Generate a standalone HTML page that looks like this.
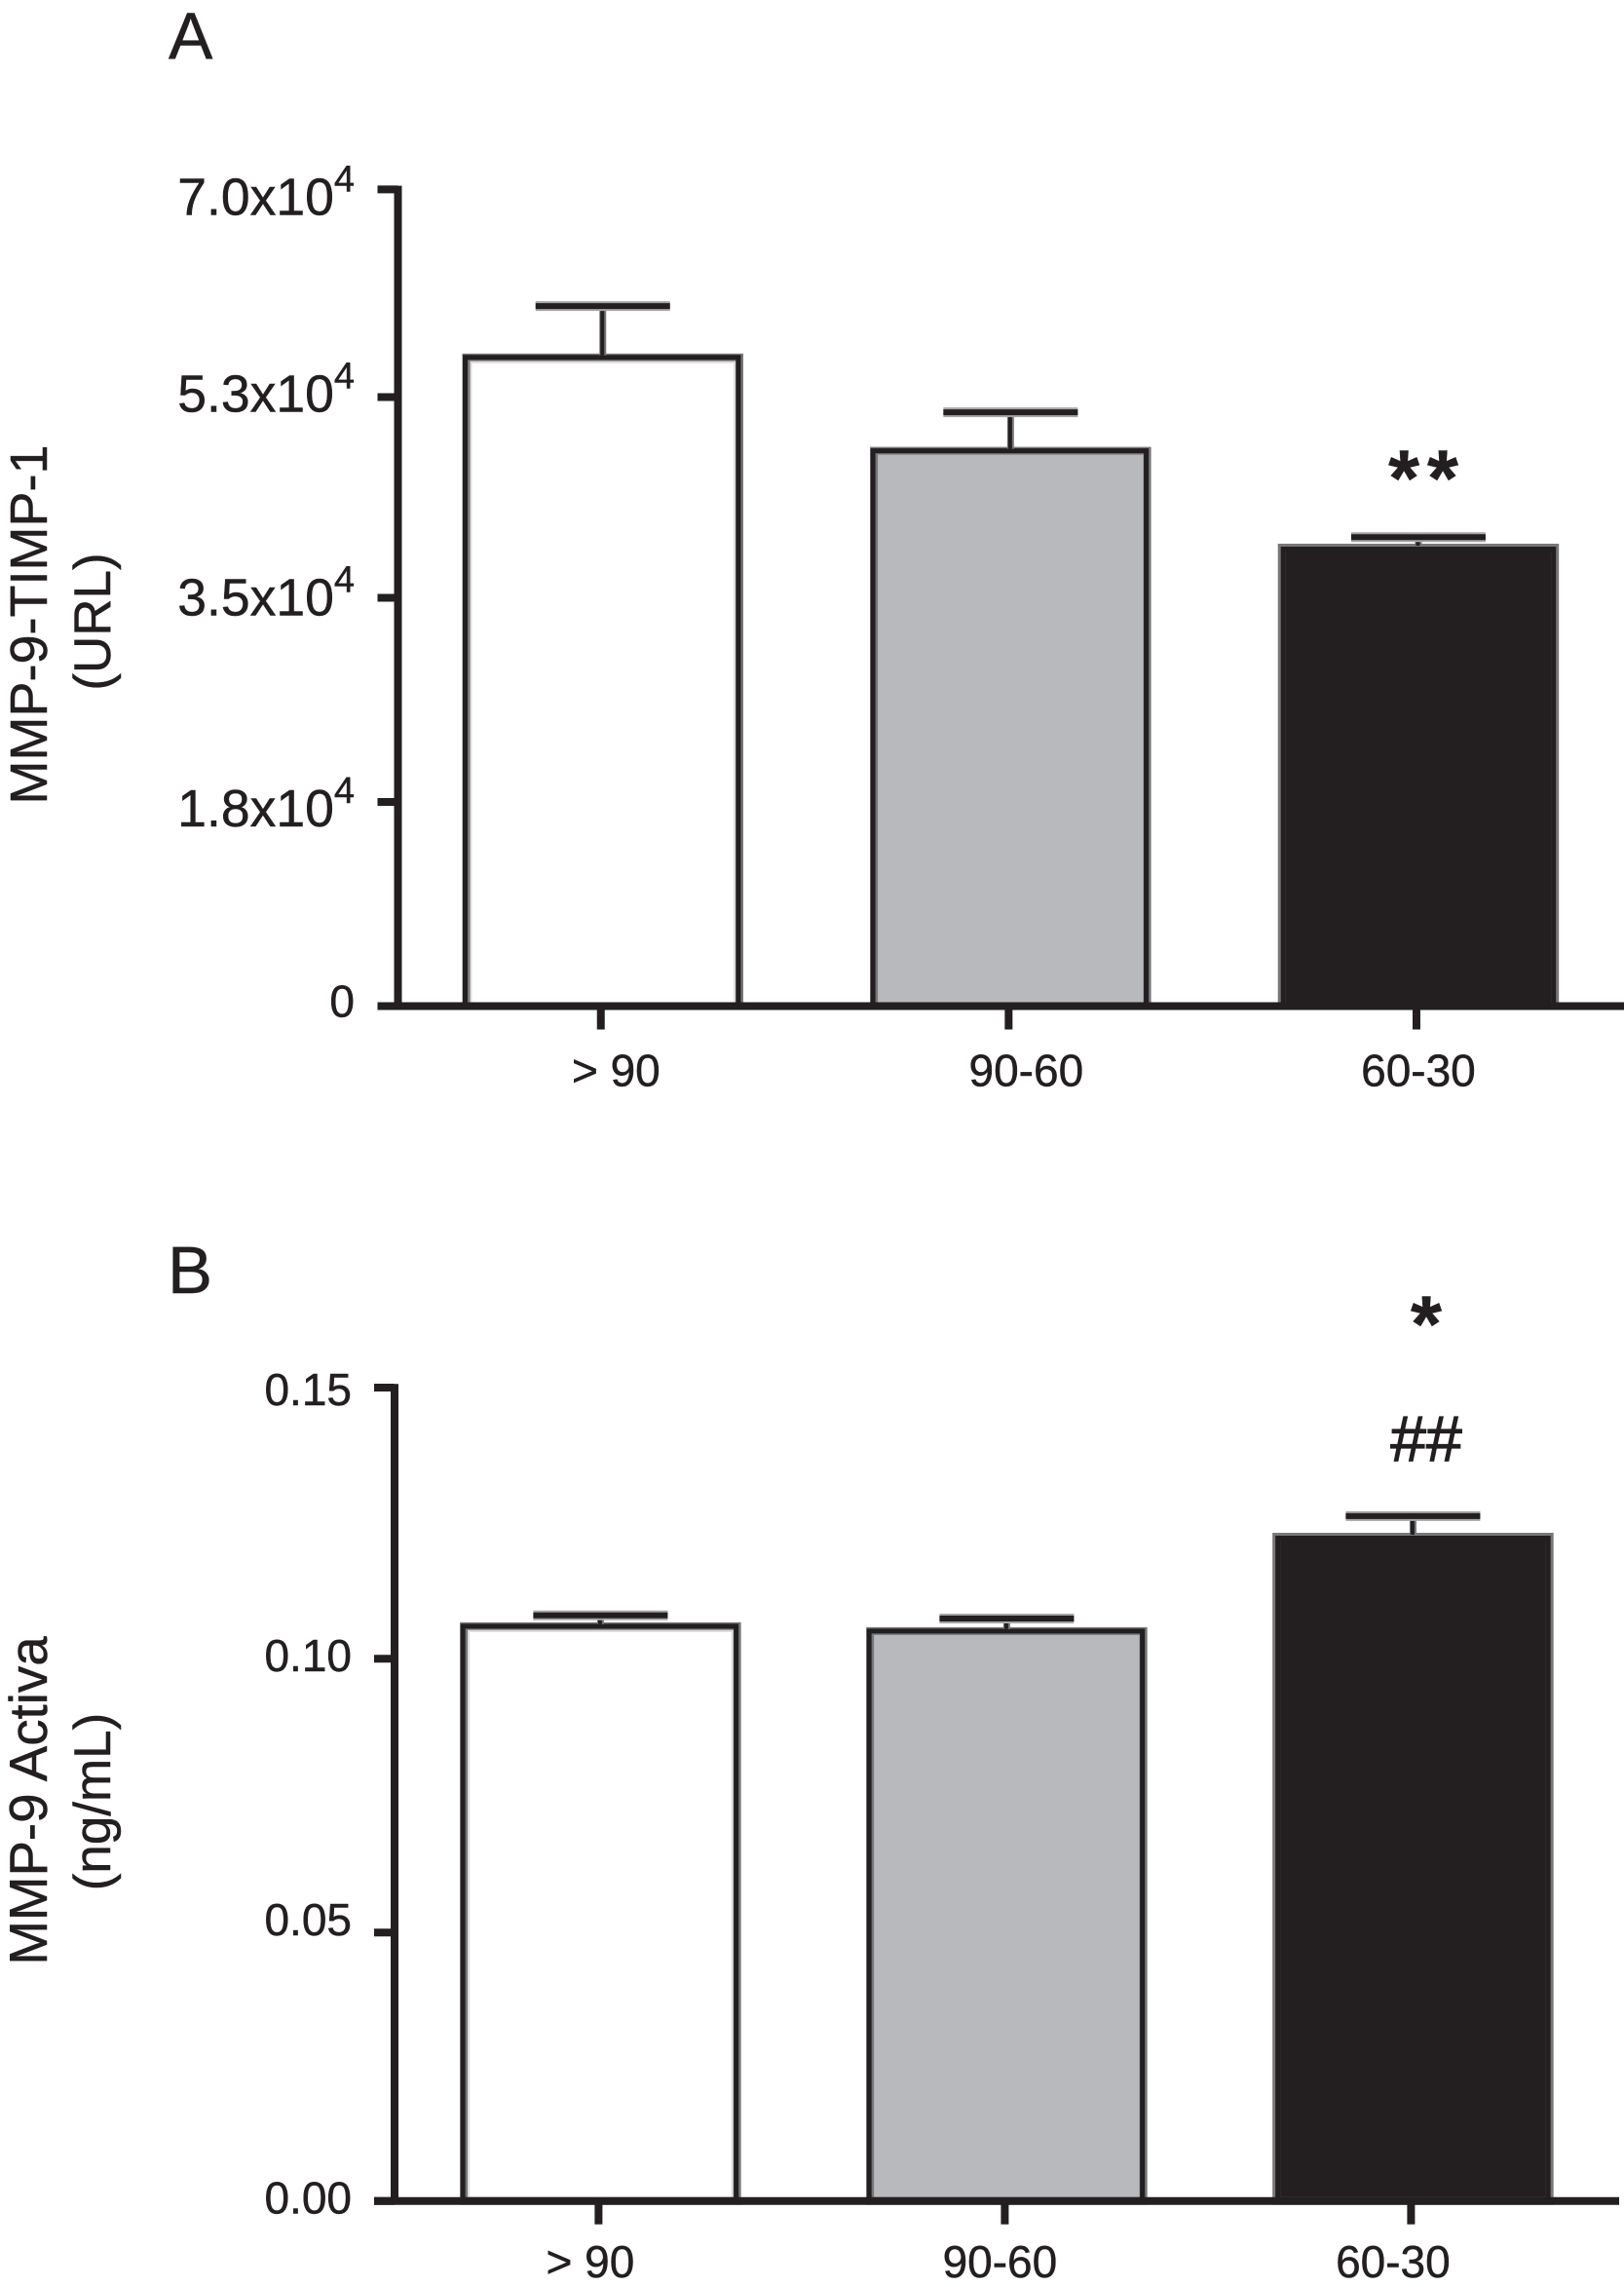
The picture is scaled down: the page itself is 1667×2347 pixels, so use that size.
<!DOCTYPE html>
<html lang="es">
<head>
<meta charset="utf-8">
<title>MMP-9 bar charts</title>
<style>
  html, body { margin: 0; padding: 0; background: #fff; }
  body { width: 1667px; height: 2347px; overflow: hidden; }
  svg { display: block; }
  text { font-family: "Liberation Sans", sans-serif; fill: #231f20; stroke: #231f20; stroke-width: 0.5px; }
</style>
</head>
<body>
<svg id="figure" xmlns="http://www.w3.org/2000/svg" width="1667" height="2347" viewBox="0 0 1667 2347">
  <g id="panel-a">
    <text x="173" y="60" font-size="68">A</text>
    <text transform="translate(48,641) rotate(-90)" text-anchor="middle" font-size="54">MMP-9-TIMP-1</text>
    <text transform="translate(113,638) rotate(-90)" text-anchor="middle" font-size="53">(URL)</text>
    <text x="1465" y="519" text-anchor="middle" font-size="82" font-weight="bold" letter-spacing="8">**</text>
  </g>
  <g id="panel-b">
    <text x="172" y="1327" font-size="69">B</text>
    <text transform="translate(48,1848) rotate(-90)" text-anchor="middle" font-size="54.7">MMP-9 Activa</text>
    <text transform="translate(113,1849) rotate(-90)" text-anchor="middle" font-size="53">(ng/mL)</text>
    <text x="1464" y="1387" text-anchor="middle" font-size="82" font-weight="bold">*</text>
    <text x="1464" y="1499" text-anchor="middle" font-size="66" style="stroke-width:1.2px">##</text>
  </g>
</svg>
<script>
const categories = ['> 90', '90-60', '60-30'];

const valuesA = [55600, 47600, 39300];
const errorsA = [4400, 3300, 900];
const tickValuesA = [0, 17500, 35000, 52200, 70000];
const tickLabelsA = ['0', '1.8x10^4', '3.5x10^4', '5.3x10^4', '7.0x10^4'];

const valuesB = [0.106, 0.1051, 0.1225];
const errorsB = [0.002, 0.0023, 0.0038];
const tickValuesB = [0, 0.0495, 0.1, 0.15];
const tickLabelsB = ['0.00', '0.05', '0.10', '0.15'];

const barFills = ['#ffffff', '#b8b9bc', '#231f20'];
const INK = '#231f20';
const HALO = '#77777a';
const NS = 'http://www.w3.org/2000/svg';

function make(parent, tag, attrs, content) {
  const el = document.createElementNS(NS, tag);
  for (const k in attrs) el.setAttribute(k, attrs[k]);
  if (content !== undefined) el.textContent = content;
  parent.appendChild(el);
  return el;
}

function drawPanel(p) {
  const root = document.getElementById(p.id);
  const y = v => p.y0 - (v - p.domain[0]) / (p.domain[1] - p.domain[0]) * (p.y0 - p.y1);
  const x = i => p.x0 + i * p.step;

  // bars
  p.values.forEach((v, i) => {
    const cx = x(i);
    const top = y(v);
    const bw = p.barWidth;
    const bar = make(root, 'g', {});
    
    
    make(bar, 'rect', { x: cx - bw / 2, y: top, width: bw, height: p.y0 - top, fill: barFills[i], stroke: HALO, 'stroke-width': 8 });
    const inset = i === 2 ? 1.5 : 0;
    const shift = i === 2 ? 0 : -1;
    make(bar, 'path', {
      d: 'M' + (cx - bw / 2 + shift + inset) + ' ' + p.y0 + 'V' + (top + inset) + 'H' + (cx + bw / 2 + shift - inset) + 'V' + p.y0,
      fill: 'none', stroke: INK, 'stroke-width': 5
    });
    if (i === 0) {
      make(bar, 'path', {
        d: 'M' + (cx - bw / 2 + 5) + ' ' + (p.y0 - 4) + 'V' + (top + 5) + 'H' + (cx + bw / 2 - 5) + 'V' + (p.y0 - 4),
        fill: 'none', stroke: '#dcdcdc', 'stroke-width': 2
      });
    }

    // error bar
    const errTop = y(v + p.errors[i]);
    const err = make(root, 'g', {});
    
    
    make(err, 'line', { x1: cx, x2: cx, y1: errTop, y2: top - 2, stroke: HALO, 'stroke-width': 7 });
    make(err, 'line', { x1: cx - 0.5, x2: cx - 0.5, y1: errTop, y2: top - 2, stroke: INK, 'stroke-width': 4 });
    make(err, 'line', { x1: cx - p.capWidth / 2, x2: cx + p.capWidth / 2, y1: errTop, y2: errTop, stroke: '#a5a5a7', 'stroke-width': 10 });
    make(err, 'line', { x1: cx - p.capWidth / 2, x2: cx + p.capWidth / 2, y1: errTop, y2: errTop, stroke: INK, 'stroke-width': 6 });
  });

  // y axis
  const yAxis = make(root, 'g', {});
  
  
  make(yAxis, 'line', { x1: p.axisX, x2: p.axisX, y1: y(p.domain[1]) - 3.8, y2: p.y0, stroke: INK, 'stroke-width': 8 });
  p.ticks.forEach((t, i) => {
    const ty = y(t);
    const tick = make(yAxis, 'line', { x1: p.axisX - 21, x2: p.axisX, y1: ty, y2: ty, stroke: INK, 'stroke-width': 8 });
    
    
    const parts = p.tickLabels[i].split('^');
    const small = parts.length === 1;
    const label = make(yAxis, 'text', {
      x: p.labelRight, y: ty + p.labelNudge[i], 'text-anchor': 'end',
      'font-size': small ? 46 : 53.5
    });
    
    
    make(label, 'tspan', {}, parts[0]);
    if (!small) make(label, 'tspan', { dy: -24, 'font-size': 38 }, parts[1]);
  });

  // x axis
  const xAxis = make(root, 'g', {});
  
  
  make(xAxis, 'line', { x1: p.axisX - 21, x2: p.axisEnd, y1: p.y0, y2: p.y0, stroke: INK, 'stroke-width': 8 });
  categories.forEach((c, i) => {
    const tx = x(i) - 2;
    const tick = make(xAxis, 'line', { x1: tx, x2: tx, y1: p.y0, y2: p.y0 + 24, stroke: INK, 'stroke-width': 8 });
    
    
    const label = make(xAxis, 'text', {
      x: tx + p.catNudge[i], y: p.y0 + p.catBaseline, 'text-anchor': 'middle', 'font-size': 46
    }, c);
    
    
  });
}

drawPanel({
  id: 'panel-a', key: 'a',
  values: valuesA, errors: errorsA, ticks: tickValuesA, tickLabels: tickLabelsA,
  domain: [0, 70000], y0: 1032.5, y1: 194.4,
  x0: 618.75, step: 418.6, barWidth: 280.5, capWidth: 138,
  axisX: 408.5, axisEnd: 1667, labelRight: 364, catBaseline: 82,
  labelNudge: [11, 25, 18, 15, 26], catNudge: [15.6, 18, 2]
});

drawPanel({
  id: 'panel-b', key: 'b',
  values: valuesB, errors: errorsB, ticks: tickValuesB, tickLabels: tickLabelsB,
  domain: [0, 0.15], y0: 2258.7, y1: 1424,
  x0: 616.4, step: 417, barWidth: 280.5, capWidth: 138,
  axisX: 405, axisEnd: 1662, labelRight: 361, catBaseline: 78.3,
  labelNudge: [13, 3, 13, 18], catNudge: [-8.5, -5, -18.5]
});
</script>
</body>
</html>
